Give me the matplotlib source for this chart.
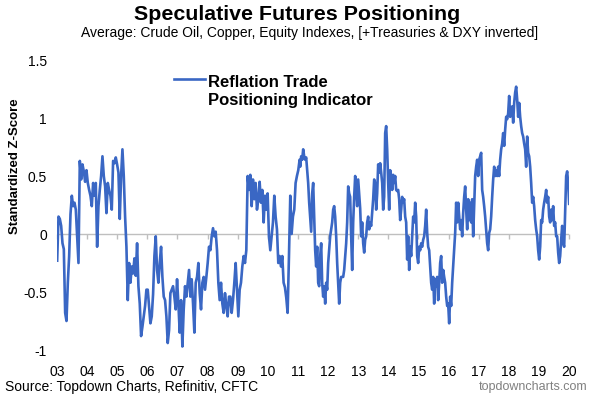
import matplotlib
matplotlib.use('Agg')
import matplotlib.pyplot as plt
import pandas as pd

plt.rcParams['font.family'] = ['Liberation Sans', 'DejaVu Sans']

# ---- data ----
vals_a = [-0.23,0.15,0.13,0.07,-0.08,-0.13,-0.68,-0.75,-0.42,-0.19,
          0.17,0.33,0.24,0.27,0.21,-0.02,-0.25,0.63,0.47,0.60,
          0.54,0.45,0.55,0.44,0.38,0.33,0.24,0.44,0.33,0.44,
          -0.11,0.24,0.38,0.50,0.67,0.50,0.41,0.18,0.44,0.38,
          0.33,0.21,0.63,0.61,0.66,0.60,0.53,0.13,0.50,0.73,
          0.50,0.15,-0.11,-0.57,-0.25,-0.42,-0.28,-0.34,-0.21,-0.36,
          -0.08,-0.45,-0.60,-0.88,-0.80,-0.71,-0.62,-0.48,-0.48,-0.62,
          -0.77,-0.71,-0.52,-0.19,-0.02,-0.31,-0.42,-0.25,-0.11,-0.37,
          -0.54,-0.57,-0.71,-0.94,-0.83,-0.51,-0.48,-0.45,-0.54,-0.65,
          -0.39,-0.60,-0.85,-0.57,-0.97,-0.65,-0.45,-0.54,-0.42,-0.31,
          -0.54,-0.39,-0.60,-0.85,-0.42,-0.37,-0.25,-0.51,-0.65,-0.42,
          -0.37,-0.48,-0.37,-0.25,-0.11,-0.14,-0.02,0.05,-0.02,0.02,
          -0.14,-0.42,-0.57,-0.42,-0.60,-0.68,-0.51,-0.62,-0.71,-0.54,
          -0.54,-0.68,-0.57,-0.42,-0.25,-0.48,-0.71,-0.48,-0.42,-0.28,
          -0.19,-0.25,-0.14,0.50,0.38,0.51,0.24,0.47,0.30,0.44,
          0.21,0.30,0.45,0.27,0.38,0.10,0.33,0.21,0.35,-0.02,
          -0.14,-0.02,0.10,0.33,0.15,0.04,-0.25,-0.19,-0.28,-0.19,
          -0.42,-0.46,-0.55,-0.68,-0.20,0.33,0.00,0.15,0.21,0.44,
          0.50,0.55,0.64]
vals_b = [0.58,0.67,0.64,0.73,0.67,0.64,0.66,0.55,0.44,0.27,
          0.15,0.02,0.35,0.44,0.15,-0.14,-0.28,-0.11,-0.42,-0.45,
          -0.19,-0.08,-0.42,-0.54,-0.45,-0.60,-0.42,-0.48,-0.25,-0.14,
          -0.02,0.04,0.10,0.21,0.24,0.15,-0.02,-0.25,-0.42,-0.60,
          -0.42,-0.37,-0.37,-0.37,-0.31,-0.19,-0.08,0.10,0.41,0.35,
          0.32,-0.02,-0.31,0.10,0.32,0.50,0.38,0.24,0.47,0.35,
          0.22,-0.02,0.10,-0.08,-0.16,-0.05,-0.02,0.10,0.15,0.04,
          0.10,0.07,0.18,0.30,0.47,0.44,0.21,0.35,0.60,0.53,
          0.61,0.53,0.44,0.21,0.32,0.87,0.93,0.73,0.44,0.21,
          0.55,0.50,0.38,0.51,0.44,0.50,0.38,0.37,0.38,0.30,
          0.12,0.21,0.32,0.27,0.30,0.15,0.10,-0.22,-0.02,-0.31,
          -0.11,-0.19,-0.02,0.15,0.10,0.27,0.15,-0.19,-0.25,-0.11,
          -0.14,-0.08,-0.11,-0.05,-0.02,0.07,0.21,0.01,-0.11,-0.14,
          -0.28,-0.42,-0.48,-0.37,-0.60,-0.39,-0.45,-0.37,-0.57,-0.42,
          -0.25,-0.19,-0.42,-0.31,-0.37,-0.42,-0.54,-0.62,-0.60,-0.77,
          -0.54,-0.62,-0.42,-0.28,-0.14,0.01,0.27,0.10,0.27,0.15,
          0.04,0.12,-0.02,0.18,0.32,0.41,0.21,0.04,0.30,0.12,
          0.27,0.10,0.30,-0.02,0.24,0.50,0.58,0.64,0.50,0.64,
          0.67,0.70,0.38,0.32,0.24,0.15,0.04,-0.08,-0.14,0.01,
          0.04,0.15,0.32,0.47,0.58,0.50,0.55,0.50,0.58,0.50,
          0.64,0.73,0.78,0.87,0.76,0.90,1.01,0.99,1.04,1.19,
          1.01,1.04,1.10,0.96,1.13,1.22,1.27,1.16,1.01,1.13,
          1.01,0.93,0.87,0.84,0.78,0.73,0.58,0.84,0.70,0.67,
          0.58,0.44,0.27,0.32,0.24,0.12,0.04,-0.02,-0.14,-0.22,
          -0.11,0.12,0.10,0.21,0.27,0.32,0.38,0.27,0.32,0.15,
          0.10,0.21,0.12,0.24,0.07,0.10,-0.02,-0.02,-0.16,-0.25,
          -0.19,-0.05,0.07,-0.08,-0.11,0.18,0.50,0.54,0.44,0.26]
dates_a = pd.date_range('2003-01-03', '2011-01-21', periods=len(vals_a))
dates_b = pd.date_range('2011-01-28', '2020-01-03', periods=len(vals_b))
series_name = 'Reflation Trade\nPositioning Indicator'
years = list(range(2003, 2021))
year_labels = [f'{y % 100:02d}' for y in years]
y_ticks = [-1, -0.5, 0, 0.5, 1, 1.5]
y_labels = ['-1', '-0.5', '0', '0.5', '1', '1.5']

dates = dates_a.append(dates_b)
vals = vals_a + vals_b

fig = plt.figure(figsize=(5.94, 3.97), dpi=100)
W, H = 594, 397
ax = fig.add_axes([57 / W, 47 / H, 512 / W, 290 / H])
ax.axhline(0, color='#bfbfbf', lw=1.0, zorder=1)
ax.plot(dates, vals, color='#3a67c4', lw=1.9, zorder=3, label=series_name)
ax.set_ylim(-1, 1.5)
ax.set_xlim(pd.Timestamp('2003-01-01'), pd.Timestamp('2020-01-01'))
for s in ax.spines.values():
    s.set_visible(False)
ax.set_yticks(y_ticks)
ax.set_yticklabels(y_labels)
ax.tick_params(axis='y', length=0, pad=7.2, labelsize=10)
year_pos = [pd.Timestamp(f'{y}-01-01') for y in years]
ax.set_xticks(year_pos)
ax.set_xticklabels(year_labels)
ax.tick_params(axis='x', length=0, pad=10.5, labelsize=10)

sec = ax.secondary_xaxis(0.4)
sec.set_xticks(year_pos)
sec.set_xticklabels([''] * len(year_pos))
sec.tick_params(axis='x', length=3.5, width=1, color='#bfbfbf', direction='out')
for s in sec.spines.values():
    s.set_visible(False)

leg = ax.legend(loc='upper left', bbox_to_anchor=(110 / 512, 1 - 8 / 290), frameon=False,
                handlelength=1.9, handletextpad=0.15, borderaxespad=0,
                prop={'weight': 'bold', 'size': 12})
for t in leg.get_texts():
    t.set_linespacing(1.3)
for h in leg.legend_handles:
    yd = h.get_ydata()
    h.set_ydata([v + 9.0 for v in yd])

fig.text(297 / W, 1 - 15 / H, 'Speculative Futures Positioning', ha='center', va='center',
         fontsize=15.4, weight='bold')
fig.text(310 / W, 1 - 33 / H,
         'Average: Crude Oil, Copper, Equity Indexes, [+Treasuries & DXY inverted]',
         ha='center', va='center', fontsize=10)
fig.text(15 / W, 1 - 166 / H, 'Standardized Z-Score', rotation=90, ha='center', va='center',
         fontsize=9.5, weight='bold')
fig.text(5 / W, 1 - 387 / H, 'Source: Topdown Charts, Refinitiv, CFTC', ha='left', va='center',
         fontsize=10)
fig.text(587 / W, 1 - 387 / H, 'topdowncharts.com', ha='right', va='center', fontsize=9,
         color='#808080')

fig.savefig('out.png', dpi=100)
